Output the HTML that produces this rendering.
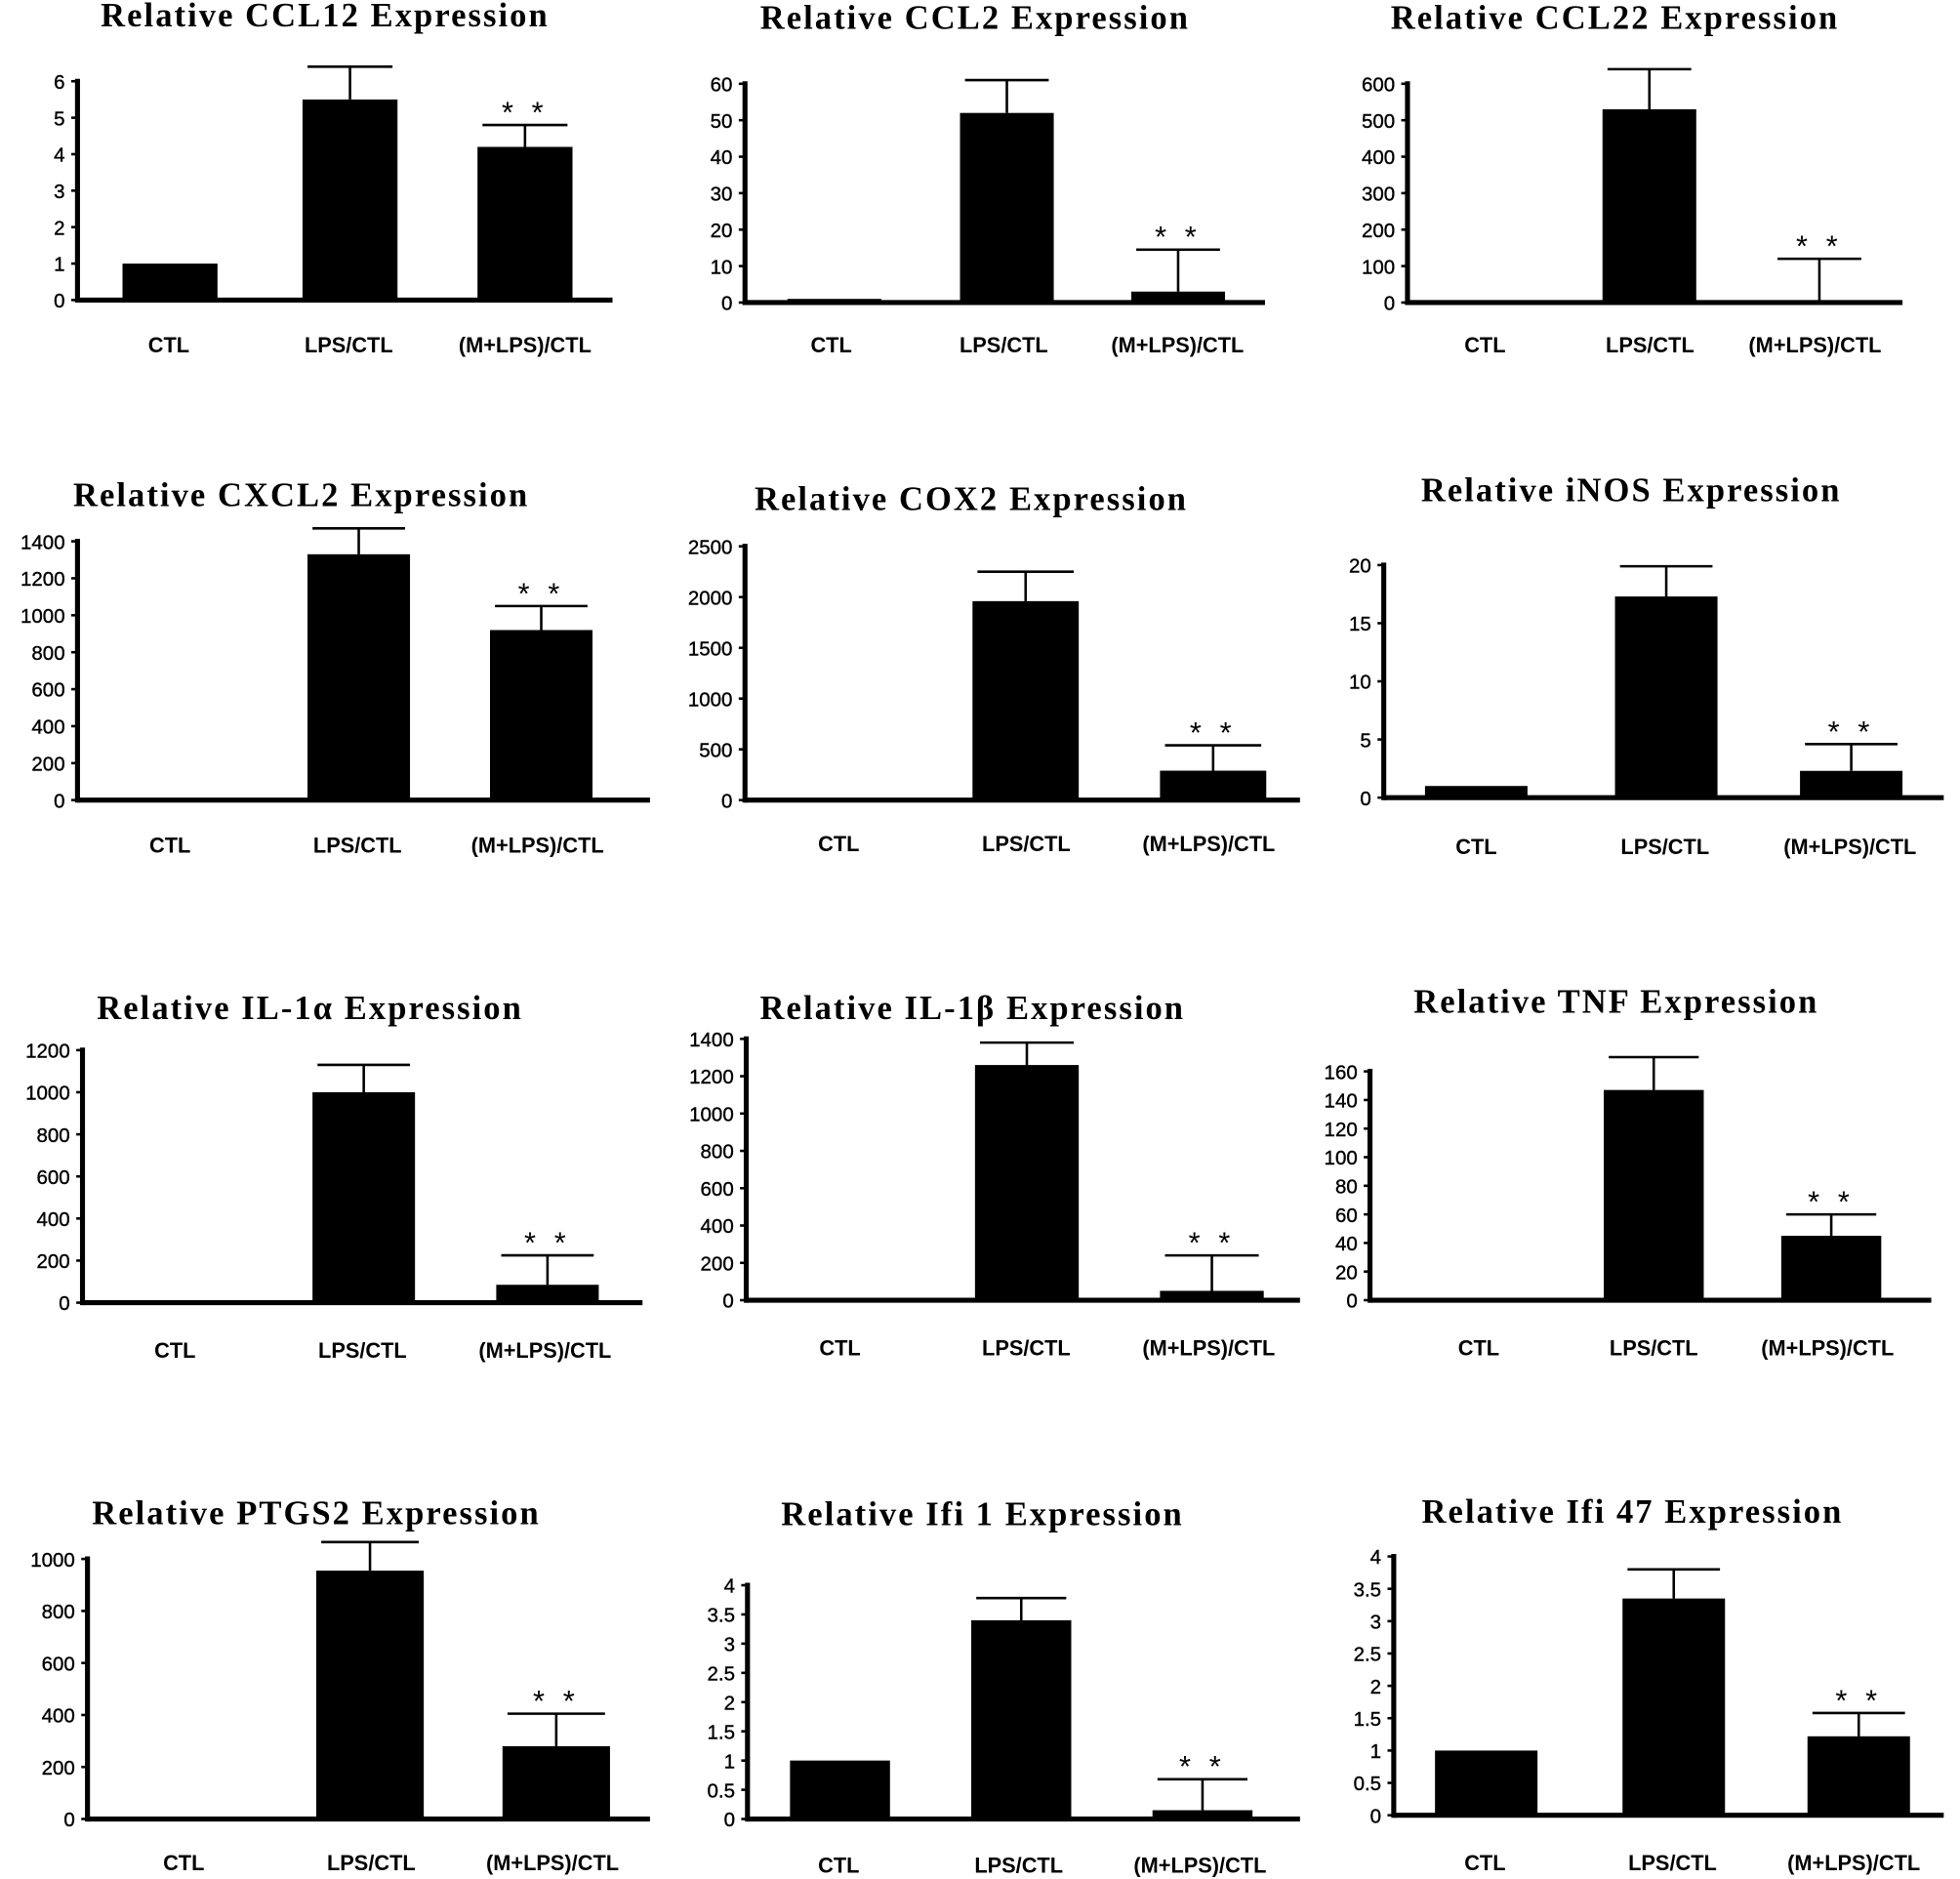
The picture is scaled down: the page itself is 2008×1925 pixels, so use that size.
<!DOCTYPE html>
<html><head><meta charset="utf-8">
<style>html,body{margin:0;padding:0;background:#fff}svg{display:block}</style></head>
<body>
<svg id="fig" width="2008" height="1925" viewBox="0 0 1568 1503" preserveAspectRatio="none" xmlns="http://www.w3.org/2000/svg"></svg>
<script>
const categories = ["CTL", "LPS/CTL", "(M+LPS)/CTL"];
const titles = ["Relative CCL12  Expression","Relative CCL2  Expression","Relative CCL22  Expression",
 "Relative CXCL2  Expression","Relative COX2  Expression","Relative iNOS  Expression",
 "Relative IL-1\u03b1  Expression","Relative IL-1\u03b2  Expression","Relative TNF  Expression",
 "Relative PTGS2  Expression","Relative Ifi 1  Expression","Relative Ifi 47  Expression"];
const meansCCL12=[1,5.5,4.2], errCCL12=[0,0.9,0.6];
const meansCCL2=[1,52,3], errCCL2=[0,9,11.5];
const meansCCL22=[1,530,5], errCCL22=[0,110,115];
const meansCXCL2=[1,1330,920], errCXCL2=[0,140,130];
const meansCOX2=[1,1960,290], errCOX2=[0,290,250];
const meansINOS=[1,17.3,2.3], errINOS=[0,2.6,2.3];
const meansIL1a=[1,1000,85], errIL1a=[0,130,140];
const meansIL1b=[1,1260,50], errIL1b=[0,120,190];
const meansTNF=[1,147,45], errTNF=[0,23,15];
const meansPTGS2=[1,955,280], errPTGS2=[0,110,125];
const meansIfi1=[1,3.4,0.15], errIfi1=[0,0.38,0.53];
const meansIfi47=[1,3.35,1.22], errIfi47=[0,0.45,0.36];
const yMax=[6,60,600,1400,2500,20,1200,1400,160,1000,4,4];
const yStep=[1,10,100,200,500,5,200,200,20,200,0.5,0.5];
const allMeans=[meansCCL12,meansCCL2,meansCCL22,meansCXCL2,meansCOX2,meansINOS,meansIL1a,meansIL1b,meansTNF,meansPTGS2,meansIfi1,meansIfi47];
const allErr=[errCCL12,errCCL2,errCCL22,errCXCL2,errCOX2,errINOS,errIL1a,errIL1b,errTNF,errPTGS2,errIfi1,errIfi47];
const layout=[
 [62,65,240,490,[98,242,382],76,[135,279,420],276,260,12],
 [596,67,242,1012,[630,768,905],75,[665,803,942],276,780,14],
 [1126,67,242,1522,[1150,1282,1418],75,[1188,1320,1452],276,1292,14],
 [62,433,640,520,[96,246,392],82,[136,286,430],676,241,396],
 [596,437,640,1040,[630,778,928],85,[671,821,967],675,777,399],
 [1107,452,638,1555,[1140,1292,1440],82,[1181,1332,1480],677,1305,392],
 [66,840,1042,514,[100,250,397],82,[140,290,436],1080,248,806],
 [597,831,1040,1040,[630,780,928],83,[672,821,967],1078,778,806],
 [1096,857,1040,1545,[1130,1283,1425],80,[1183,1323,1462],1078,1293,801],
 [70,1247,1455,520,[104,253,402],86,[147,297,442],1490,253,1210],
 [598,1268,1455,1040,[632,777,922],80,[671,815,960],1492,786,1211],
 [1115,1245,1452,1555,[1148,1298,1446],82,[1188,1338,1483],1490,1306,1209]
];
const svg=document.getElementById('fig');
const NS="http://www.w3.org/2000/svg";
function mk(tag,attrs,parent){const e=document.createElementNS(NS,tag);for(const k in attrs)e.setAttribute(k,attrs[k]);(parent||svg).appendChild(e);return e;}
layout.forEach((L,p)=>{
 const [ax,yt,yb,xe,lefts,bw,lx,ly,tx,ty]=L;
 const g=mk('g',{});
 
 
 const yS=v=>yb-(v/yMax[p])*(yb-yt);
 const t=mk('text',{x:tx,y:ty+9,'text-anchor':'middle','font-family':'Liberation Serif, serif','font-weight':'bold','font-size':27,'letter-spacing':'1.6','xml:space':'preserve'},g);
 t.textContent=titles[p];
 
 
 allMeans[p].forEach((v,i)=>{
  const top=yS(v);
  const r=mk('rect',{x:lefts[i],y:top,width:bw,height:yb-top,fill:'#000'},g);
  
  
  const e=allErr[p][i];
  if(e>0){
   const cx=lefts[i]+bw/2, et=yS(v+e);
   const eb=mk('path',{d:`M${cx},${top}V${et}M${cx-bw/2+4},${et}H${cx+bw/2-4}`,stroke:'#000','stroke-width':2,fill:'none'},g);
   
   
   if(i===2){
    const s=mk('text',{x:cx,y:et-2,'text-anchor':'middle','font-family':'Liberation Sans, sans-serif','font-size':24,'letter-spacing':'4'},g);
    s.textContent='* *';
    
    
   }
  }
  const c=mk('text',{x:lx[i],y:ly+6,'text-anchor':'middle','font-family':'Liberation Sans, sans-serif','font-weight':'bold','font-size':17},g);
  c.textContent=categories[i];
  
  
 });
 const ya=mk('line',{x1:ax,y1:yt-2,x2:ax,y2:yb+2,stroke:'#000','stroke-width':4},g);
 
 
 const xa=mk('line',{x1:ax,y1:yb,x2:xe,y2:yb,stroke:'#000','stroke-width':4},g);
 
 
 const n=Math.round(yMax[p]/yStep[p]);
 for(let k=0;k<=n;k++){
  const v=+(k*yStep[p]).toFixed(2), y=yS(v);
  mk('line',{x1:ax-5,y1:y,x2:ax,y2:y,stroke:'#000','stroke-width':2},g);
  const tl=mk('text',{x:ax-10,y:y+6,'text-anchor':'end','font-family':'Liberation Sans, sans-serif','font-size':16,'font-weight':'500','stroke':'#000','stroke-width':'0.3'},g);
  tl.textContent=String(v);
  
  
 }
});
</script>
</body></html>
